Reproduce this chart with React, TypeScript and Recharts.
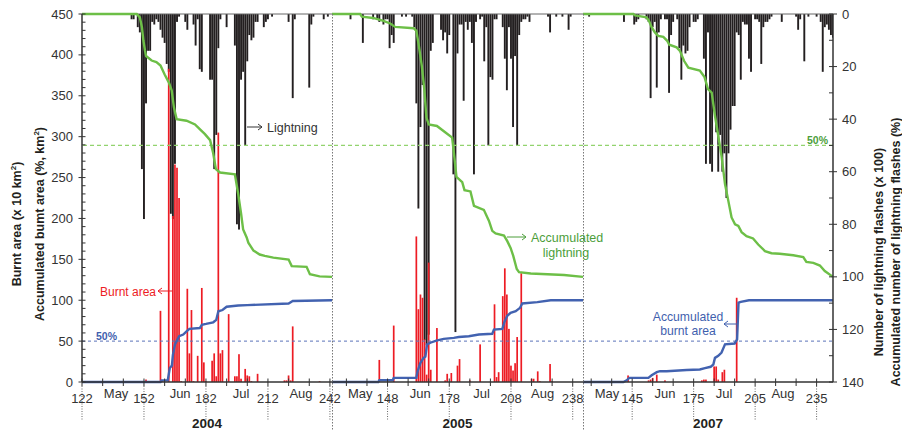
import React from 'react';
import { ComposedChart, Bar, Line, XAxis, YAxis, ReferenceLine } from 'recharts';

const W = 902;
const H = 430;
const TOP = 14;
const BOTTOM = 382;
const FONT = '"Liberation Sans", Arial, sans-serif';

// daily lightning flashes (x 100) per year: [day of year, value]
const light2004: number[][] = [
  [146, 2], [147, 2], [149, 5], [150, 7], [151, 59], [152, 78], [153, 34], [154, 14], [155, 14], [156, 3],
  [157, 4], [158, 2], [159, 3], [160, 6], [161, 9], [162, 11], [163, 19], [164, 22], [165, 76], [166, 78],
  [167, 57], [168, 3], [169, 1], [172, 3], [173, 6], [176, 4], [177, 12], [178, 2], [179, 21], [180, 22],
  [184, 25], [185, 25], [186, 59], [187, 46], [188, 13], [189, 2], [192, 5], [196, 12], [197, 80], [198, 82],
  [199, 25], [200, 22], [201, 50], [202, 18], [203, 8], [204, 10], [205, 9], [206, 3], [207, 3], [210, 5],
  [211, 3], [212, 2], [214, 1], [222, 3], [224, 32], [225, 2], [232, 28], [233, 4], [234, 1], [239, 2], [241, 1],
];
const light2005: number[][] = [
  [130, 2], [136, 11], [141, 2], [143, 2], [144, 3], [146, 4], [147, 2], [148, 2], [149, 13], [150, 8],
  [151, 11], [155, 1], [157, 1], [160, 1], [161, 5], [162, 34], [163, 74], [164, 43], [165, 27], [166, 124],
  [167, 126], [168, 122], [169, 14], [170, 11], [174, 6], [175, 10], [176, 7], [177, 15], [178, 8], [180, 61],
  [181, 121], [182, 15], [183, 4], [184, 4], [185, 33], [186, 3], [187, 6], [188, 3], [189, 11], [190, 61],
  [191, 3], [193, 2], [194, 1], [195, 18], [196, 5], [197, 50], [198, 24], [199, 25], [200, 2], [201, 2],
  [204, 5], [205, 17], [206, 29], [207, 5], [208, 17], [209, 43], [210, 16], [211, 50], [212, 8], [213, 3],
  [214, 2], [215, 2], [216, 1], [217, 3], [226, 1], [227, 7], [230, 1], [233, 1], [236, 6], [237, 1],
];
const light2007: number[][] = [
  [124, 1], [141, 3], [146, 4], [147, 3], [148, 2], [152, 2], [153, 3], [154, 32], [155, 5], [156, 3],
  [157, 28], [158, 7], [159, 2], [161, 2], [162, 2], [163, 30], [164, 8], [165, 3], [167, 2], [168, 13],
  [169, 25], [170, 12], [171, 15], [172, 14], [173, 5], [175, 3], [176, 3], [177, 2], [180, 17], [181, 57],
  [182, 7], [183, 57], [184, 60], [185, 36], [186, 45], [187, 60], [188, 46], [189, 60], [190, 53], [191, 70],
  [192, 53], [193, 44], [194, 35], [195, 35], [196, 7], [197, 8], [198, 25], [199, 3], [200, 4], [201, 4],
  [202, 17], [203, 22], [205, 2], [206, 2], [207, 3], [208, 19], [209, 5], [210, 3], [211, 3], [212, 2],
  [213, 1], [218, 3], [225, 1], [226, 6], [227, 2], [229, 18], [231, 1], [235, 1], [237, 3], [238, 22],
  [239, 5], [240, 4], [241, 6], [242, 8], [243, 9],
];

// daily burnt area (x 10 km2)
const burnt2004: number[][] = [
  [153, 3], [160, 87], [161, 1], [164, 383], [166, 203], [167, 266], [168, 262], [169, 225], [170, 1], [173, 114],
  [174, 35], [175, 88], [176, 1], [178, 32], [180, 115], [181, 24], [182, 1], [185, 26], [186, 35], [187, 7],
  [188, 305], [189, 35], [190, 39], [193, 83], [196, 7], [197, 7], [198, 34], [199, 4], [201, 16], [202, 8],
  [203, 7], [204, 1], [207, 10], [220, 2], [221, 2], [222, 8], [223, 2], [224, 68], [237, 1],
];
const burnt2005: number[][] = [
  [144, 27], [151, 69], [162, 178], [163, 89], [164, 107], [165, 103], [166, 52], [167, 9], [168, 146], [169, 15],
  [172, 66], [176, 2], [177, 10], [179, 11], [182, 20], [183, 28], [188, 2], [193, 46], [200, 95], [201, 6],
  [202, 12], [204, 105], [205, 139], [206, 107], [207, 65], [208, 20], [209, 14], [210, 23], [211, 55], [213, 133],
  [218, 4], [219, 4], [221, 13], [222, 1], [227, 22], [228, 1],
];
const burnt2007: number[][] = [
  [143, 8], [153, 2], [154, 3], [155, 5], [157, 9], [161, 2], [179, 2], [180, 3], [181, 3], [185, 19],
  [186, 19], [187, 3], [189, 12], [190, 15], [196, 103],
];

// accumulated lightning (%)
const accLight2004: number[][] = [
  [122, 0], [148.5, 0], [150, 1.3], [151, 5], [151.7, 10], [152.5, 14], [153, 16], [155.7, 17.7], [158, 18.3],
  [160, 19.6], [162, 23], [164, 26], [165.4, 29], [166.5, 35.6], [167.8, 40], [172.6, 40.6], [176.7, 42],
  [179, 43.8], [181.5, 45.7], [184, 48], [185.5, 53], [186.8, 59], [188.8, 60.3], [196, 61], [197.6, 68.5],
  [199, 76], [200, 82], [201.7, 85], [202.5, 87], [205, 90], [208, 91.5], [210.5, 92], [214.6, 92.7],
  [222, 93.4], [223.5, 95.9], [230.7, 96.2], [232.3, 99], [237, 99.8], [243, 100],
];
const accLight2005: number[][] = [
  [121, 0], [134.7, 0], [135.5, 1], [141, 1.5], [146, 2.6], [149.3, 3.6], [151.7, 4.9], [160.7, 5.4],
  [162, 6.4], [163.1, 11.5], [164.7, 20], [165.9, 29], [166.9, 39.4], [168, 42], [172, 42.6], [176, 45],
  [179.4, 47], [180.5, 54.6], [181.5, 62], [184.3, 64], [185.4, 67], [188.3, 67.5], [190, 73], [194.8, 74.5],
  [197.3, 78.7], [198.9, 82.5], [200.5, 83.5], [204.6, 84.3], [206.2, 86.4], [207.8, 89], [209.1, 92],
  [210.8, 97], [211.9, 98.2], [217.6, 98.7], [233.8, 99.3], [243, 100],
];
const accLight2007: number[][] = [
  [121, 0], [145.6, 0], [146.4, 0.5], [152, 1.3], [153.2, 2.6], [154.5, 5], [156.1, 7], [157.7, 8.3],
  [160.2, 8.7], [162.1, 10.2], [163.1, 11.7], [166.7, 12.7], [168.3, 14], [170.3, 17.8], [172.4, 20.4],
  [178, 21.5], [180.3, 24], [182, 28.6], [183.8, 29.9], [185.4, 38.7], [187, 46.3], [188.6, 54], [190.3, 64.7],
  [191.9, 71], [193.5, 77.4], [195.2, 80], [196.8, 80.6], [198.4, 83], [200.8, 84.5], [204, 85.4],
  [206.5, 87.7], [209.8, 90.2], [213, 91], [217, 91.2], [223.6, 91.8], [228.5, 92.5], [230, 94.3],
  [233.4, 94.7], [236.6, 95.7], [239, 97.8], [243, 100],
];

// accumulated burnt area (%)
const accBurnt2004: number[][] = [
  [122, 0], [160, 0], [160.5, 2], [163.5, 2], [164.5, 17], [165.5, 20], [166, 33], [167, 46], [169, 56],
  [171, 58], [172.6, 62], [174, 65], [179, 66], [180, 70], [182, 71], [185.5, 73], [187, 76], [188, 86.5],
  [190, 88], [192, 92], [197.6, 93.5], [202, 94], [222, 96], [224, 99], [243, 100],
];
const accBurnt2005: number[][] = [
  [121, 0], [143.5, 0], [144, 2.2], [150.5, 2.2], [151, 5], [162, 5], [162.6, 13], [164, 23.5], [165.5, 29.5],
  [166.4, 31], [167.2, 46], [168.8, 48], [171.7, 50.7], [175.3, 52.8], [180.2, 54], [182.6, 55], [187.5, 56],
  [192.4, 58], [198.9, 59], [199.7, 64], [203.8, 65], [204.9, 74], [206.2, 81], [207.8, 84.6], [210.3, 86.6],
  [212.4, 90.7], [213.5, 96], [220.8, 97.7], [227.3, 100], [243, 100],
];
const accBurnt2007: number[][] = [
  [121, 0], [140.7, 0], [142.3, 2], [143.6, 5], [152.9, 5], [154.5, 8.3], [157, 12], [158.6, 13.2],
  [161.8, 13.2], [171.6, 14.6], [178, 15.3], [180.5, 17], [183.3, 18.6], [184.6, 21.4], [185.4, 29.5],
  [187, 32], [188.6, 36], [190.3, 46], [195, 47], [196.2, 52], [196.9, 97], [198, 98], [202, 100], [243, 100],
];

// x axis labels per panel
const labelDays2004 = [122, 152, 182, 212, 242];
const labelDays2005 = [148, 178, 208, 238];
const labelDays2007 = [145, 175, 205, 235];
const minorDays2004 = [132, 142, 162, 172, 192, 202, 222, 232];
const minorDays2005 = [128, 138, 158, 168, 188, 198, 218, 228];
const minorDays2007 = [125, 135, 155, 165, 185, 195, 215, 225];
const months2004: [string, number][] = [['May', 138.5], ['Jun', 169.5], ['Jul', 199], ['Aug', 228]];
const months2005: [string, number][] = [['May', 134.7], ['Jun', 163.9], ['Jul', 193.7], ['Aug', 223.4]];
const months2007: [string, number][] = [['May', 132.7], ['Jun', 161], ['Jul', 189.8], ['Aug', 218.6]];

const leftTicks = Array.from({ length: 46 }, (_, i) => i * 10);
const rightTicks = Array.from({ length: 15 }, (_, i) => i * 10);

const panels = [
  { year: '2004', domain: [122, 243], x0: 82, x1: 332, light: light2004, burnt: burnt2004, accL: accLight2004, accB: accBurnt2004, labels: labelDays2004, minor: minorDays2004, months: months2004 },
  { year: '2005', domain: [121, 243], x0: 332, x1: 583, light: light2005, burnt: burnt2005, accL: accLight2005, accB: accBurnt2005, labels: labelDays2005, minor: minorDays2005, months: months2005 },
  { year: '2007', domain: [121, 243], x0: 583, x1: 833, light: light2007, burnt: burnt2007, accL: accLight2007, accB: accBurnt2007, labels: labelDays2007, minor: minorDays2007, months: months2007 },
];

function buildDaily(p: any) {
  const lm = new Map(p.light.map((d: number[]) => [d[0], d[1]]));
  const bm = new Map(p.burnt.map((d: number[]) => [d[0], d[1]]));
  const rows = [];
  for (let d = p.domain[0]; d <= p.domain[1]; d++) {
    rows.push({ day: d, light: lm.get(d), burnt: bm.get(d) });
  }
  return rows;
}

const toPoints = (arr: number[][]) => arr.map(([day, v]) => ({ day, v }));

// fixed-width bar centred on its day, whatever band size recharts picks
const thinBar = (w: number, color: string) => (props: any) => {
  const { x, y, width, height } = props;
  if (!height || x == null || y == null) return null;
  const cx = x + width / 2;
  const top = height < 0 ? y + height : y;
  return <rect x={cx - w / 2} y={top} width={w} height={Math.abs(height)} fill={color} />;
};

const makeXTick = (labels: number[], months: [string, number][]) => (props: any) => {
  const { x, payload } = props;
  const v = payload.value;
  const m = months.find((mm) => Math.abs(mm[1] - v) < 1e-6);
  if (m) {
    return (
      <text x={x} y={398} textAnchor="middle" fontSize={13} fill="#333" fontFamily={FONT}>{m[0]}</text>
    );
  }
  const isLabel = labels.includes(v);
  return (
    <g>
      <line x1={x} x2={x} y1={BOTTOM - 3.5} y2={BOTTOM + 4} stroke="#333" strokeWidth={1} />
      {isLabel && <line x1={x} x2={x} y1={BOTTOM + 4} y2={420} stroke="#666" strokeDasharray="1 1.5" strokeWidth={1} />}
      {isLabel && (
        <text x={x} y={403} textAnchor="middle" fontSize={13} fill="#333" fontFamily={FONT}>{v}</text>
      )}
    </g>
  );
};

const leftTick = (props: any) => {
  const { y, payload } = props;
  const v = payload.value;
  const major = v % 50 === 0;
  return (
    <g>
      <line x1={major ? 78.5 : 82} x2={85.5} y1={y} y2={y} stroke="#333" strokeWidth={1} />
      {major && (
        <text x={73} y={y + 4.5} textAnchor="end" fontSize={13} fill="#333" fontFamily={FONT}>{v}</text>
      )}
    </g>
  );
};

const rightTick = (props: any) => {
  const { y, payload } = props;
  const v = payload.value;
  const major = v % 20 === 0;
  return (
    <g>
      <line x1={829} x2={major ? 837 : 833} y1={y} y2={y} stroke="#333" strokeWidth={1} />
      {major && (
        <text x={842} y={y + 4.5} textAnchor="start" fontSize={13} fill="#333" fontFamily={FONT}>{v}</text>
      )}
    </g>
  );
};

function Panel({ idx }: { idx: number }) {
  const p = panels[idx];
  const data = buildDaily(p);
  const ticks = [p.labels, p.minor, p.months.map((m) => m[1])].flat().sort((a, b) => a - b);
  return (
    <div style={{ position: 'absolute', left: 0, top: 0 }}>
      <ComposedChart
        width={W}
        height={H}
        data={data}
        margin={{ top: TOP, right: idx === 2 ? 0 : W - p.x1, bottom: 0, left: idx === 0 ? 0 : p.x0 }}
      >
        <XAxis
          xAxisId="x"
          dataKey="day"
          type="number"
          domain={p.domain}
          allowDataOverflow
          ticks={ticks}
          interval={0}
          tick={makeXTick(p.labels, p.months)}
          tickLine={false}
          axisLine={{ stroke: '#333', strokeWidth: 1.5 }}
          height={H - BOTTOM}
        />
        <XAxis xAxisId="x2" dataKey="day" type="number" domain={p.domain} allowDataOverflow hide />
        <YAxis
          yAxisId="l"
          domain={[0, 450]}
          ticks={leftTicks}
          interval={0}
          hide={idx !== 0}
          width={82}
          tick={leftTick}
          tickLine={false}
          axisLine={{ stroke: '#333', strokeWidth: 1.5 }}
        />
        <YAxis
          yAxisId="r"
          orientation="right"
          reversed
          domain={[0, 140]}
          ticks={rightTicks}
          interval={0}
          hide={idx !== 2}
          width={69}
          tick={rightTick}
          tickLine={false}
          axisLine={{ stroke: '#333', strokeWidth: 1.5 }}
        />
        <ReferenceLine xAxisId="x" yAxisId="l" y={450} stroke="#666" strokeWidth={1} />
        <ReferenceLine xAxisId="x" yAxisId="r" y={50} stroke="#92d36e" strokeDasharray="4 3" strokeWidth={1.3} />
        <ReferenceLine xAxisId="x" yAxisId="l" y={50} stroke="#5b73b9" strokeDasharray="3 3" strokeWidth={1} />
        <Bar xAxisId="x" yAxisId="r" dataKey="light" fill="#231f20" barSize={2} shape={thinBar(1.9, '#231f20')} isAnimationActive={false} />
        <Bar xAxisId="x2" yAxisId="l" dataKey="burnt" fill="#ed1c24" barSize={2} shape={thinBar(1.7, '#ed1c24')} isAnimationActive={false} />
        <Line
          xAxisId="x"
          yAxisId="r"
          data={toPoints(p.accL)}
          dataKey="v"
          type="linear"
          stroke="#6dbf47"
          strokeWidth={2.4}
          dot={false}
          activeDot={false}
          isAnimationActive={false}
        />
        <Line
          xAxisId="x2"
          yAxisId="l"
          data={toPoints(p.accB)}
          dataKey="v"
          type="linear"
          stroke="#4262b0"
          strokeWidth={2.4}
          dot={false}
          activeDot={false}
          isAnimationActive={false}
        />
      </ComposedChart>
    </div>
  );
}

function Arrow({ x1, x2, y, color }: { x1: number; x2: number; y: number; color: string }) {
  // arrow head at x2
  const dir = x2 > x1 ? -1 : 1;
  return (
    <g stroke={color} strokeWidth={1} fill="none">
      <line x1={x1} x2={x2} y1={y} y2={y} />
      <polyline points={`${x2 + dir * 4},${y - 3} ${x2},${y} ${x2 + dir * 4},${y + 3}`} />
    </g>
  );
}

function Overlay() {
  const green = '#4c9e3b';
  const blue = '#3f5fae';
  const red = '#ed1c24';
  return (
    <svg width={W} height={H} style={{ position: 'absolute', left: 0, top: 0, pointerEvents: 'none' }} fontFamily={FONT}>
      <line x1={332.5} x2={332.5} y1={TOP} y2={H} stroke="#777" strokeDasharray="1.5 1.5" />
      <line x1={583.5} x2={583.5} y1={TOP} y2={H} stroke="#777" strokeDasharray="1.5 1.5" />

      {panels.map((p) => (
        <text key={p.year} x={(p.x0 + p.x1) / 2} y={428} textAnchor="middle" fontSize={13.5} fontWeight="bold" fill="#231f20">
          {p.year}
        </text>
      ))}

      <text transform="translate(21,224) rotate(-90)" textAnchor="middle" fontSize={12.5} fontWeight="bold" fill="#231f20">
        Burnt area (x 10 km<tspan dy={-5} fontSize={8}>2</tspan><tspan dy={5}>)</tspan>
      </text>
      <text transform="translate(44,224) rotate(-90)" textAnchor="middle" fontSize={12.5} fontWeight="bold" fill="#231f20">
        Accumulated bumt area (%, km<tspan dy={-5} fontSize={8}>2</tspan><tspan dy={5}>)</tspan>
      </text>
      <text transform="translate(883,252) rotate(-90)" textAnchor="middle" fontSize={12.5} fontWeight="bold" fill="#231f20">
        Number of lightning flashes (x 100)
      </text>
      <text transform="translate(900,252) rotate(-90)" textAnchor="middle" fontSize={12.5} fontWeight="bold" fill="#231f20">
        Accumulated number of lightning flashes (%)
      </text>

      <Arrow x1={247} x2={262} y={127} color="#333" />
      <text x={267} y={131.5} fontSize={12.5} fill="#333">Lightning</text>

      <Arrow x1={507} x2={526} y={237} color={green} />
      <text x={531} y={241.5} fontSize={12.5} fill={green}>Accumulated</text>
      <text x={566} y={256.5} textAnchor="middle" fontSize={12.5} fill={green}>lightning</text>

      <text x={100} y={295.5} fontSize={12} fill={red}>Burnt area</text>
      <Arrow x1={172} x2={158} y={291} color={red} />

      <text x={688} y={321} textAnchor="middle" fontSize={12.2} fill={blue}>Accumulated</text>
      <text x={688} y={335} textAnchor="middle" fontSize={12.2} fill={blue}>burnt area</text>
      <Arrow x1={737} x2={724} y={324} color={blue} />

      <text x={828} y={143.5} textAnchor="end" fontSize={10.5} fontWeight="bold" fill={green}>50%</text>
      <text x={96} y={340} fontSize={10.5} fontWeight="bold" fill={blue}>50%</text>
    </svg>
  );
}

export default function App() {
  return (
    <div style={{ position: 'absolute', left: 0, top: 0, width: W, height: H, background: '#fff' }}>
      <Panel idx={0} />
      <Panel idx={1} />
      <Panel idx={2} />
      <Overlay />
    </div>
  );
}
